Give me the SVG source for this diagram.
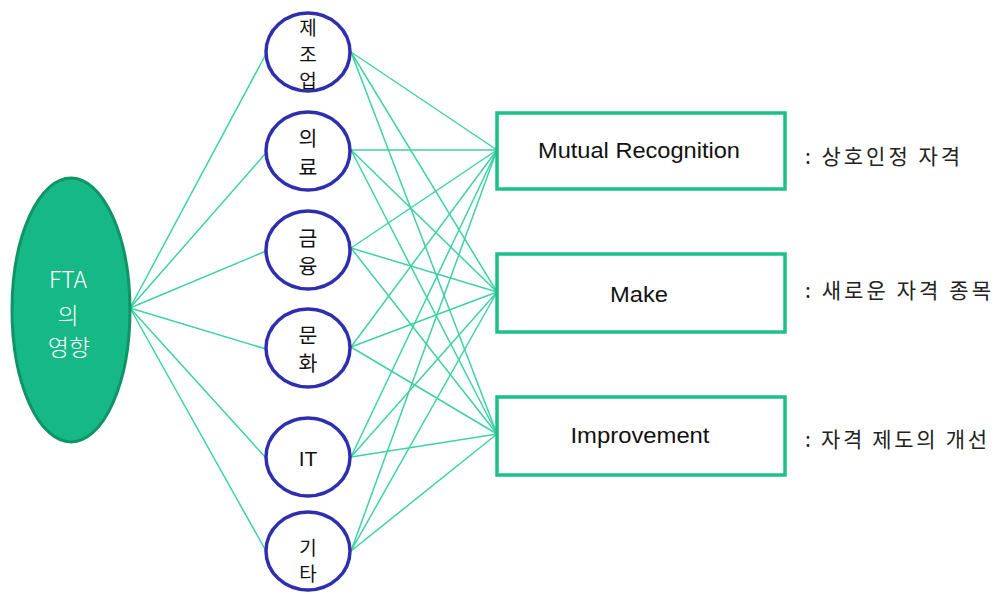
<svg xmlns="http://www.w3.org/2000/svg" width="996" height="594" viewBox="0 0 996 594">
<style>
.ln{stroke:#3fd1a6;stroke-width:1.5;fill:none}
.cir{fill:#fff;stroke:#2f2fae;stroke-width:3.5}
.box{fill:#fff;stroke:#1dbf8b;stroke-width:3.5}
.ct{font-family:"Noto Sans CJK KR","Liberation Sans",sans-serif;font-size:20.5px;fill:#111;text-anchor:middle}
.cs{font-size:19px}
.bt{font-family:"Liberation Sans","Noto Sans CJK KR",sans-serif;font-size:22px;fill:#111;text-anchor:middle}
.lb{font-family:"Noto Sans CJK KR","Liberation Sans",sans-serif;font-size:21px;fill:#222}
.ft{font-family:"Noto Sans CJK KR","Liberation Sans",sans-serif;font-size:23px;fill:#fff;text-anchor:middle;font-weight:300}
</style>
<rect width="996" height="594" fill="#fff"/>
<g id="connectors">
<line class="ln" x1="130" y1="308" x2="266" y2="54"/>
<line class="ln" x1="130" y1="308" x2="266" y2="153"/>
<line class="ln" x1="130" y1="308" x2="266" y2="251"/>
<line class="ln" x1="130" y1="308" x2="266" y2="349"/>
<line class="ln" x1="130" y1="308" x2="266" y2="458"/>
<line class="ln" x1="130" y1="308" x2="266" y2="551"/>
<line class="ln" x1="351" y1="52" x2="497" y2="150"/>
<line class="ln" x1="351" y1="52" x2="497" y2="292"/>
<line class="ln" x1="351" y1="52" x2="497" y2="434"/>
<line class="ln" x1="351" y1="150" x2="497" y2="150"/>
<line class="ln" x1="351" y1="150" x2="497" y2="292"/>
<line class="ln" x1="351" y1="150" x2="497" y2="434"/>
<line class="ln" x1="351" y1="248" x2="497" y2="150"/>
<line class="ln" x1="351" y1="248" x2="497" y2="292"/>
<line class="ln" x1="351" y1="248" x2="497" y2="434"/>
<line class="ln" x1="351" y1="347" x2="497" y2="150"/>
<line class="ln" x1="351" y1="347" x2="497" y2="292"/>
<line class="ln" x1="351" y1="347" x2="497" y2="434"/>
<line class="ln" x1="351" y1="457" x2="497" y2="150"/>
<line class="ln" x1="351" y1="457" x2="497" y2="292"/>
<line class="ln" x1="351" y1="457" x2="497" y2="434"/>
<line class="ln" x1="351" y1="551" x2="497" y2="150"/>
<line class="ln" x1="351" y1="551" x2="497" y2="292"/>
<line class="ln" x1="351" y1="551" x2="497" y2="434"/>
</g>
<g id="fta">
<ellipse cx="71" cy="310" rx="59" ry="132" fill="#16b886" stroke="#0f9468" stroke-width="3"/>
<text class="ft" x="68" y="288">FTA<tspan x="68" y="324">의</tspan><tspan x="69" y="356">영향</tspan></text>
</g>
<g id="n1">
<ellipse class="cir" cx="308" cy="52" rx="42" ry="39"/>
<text class="ct cs" x="308" y="35">제<tspan x="308" y="61.5">조</tspan><tspan x="308" y="88">업</tspan></text>
</g>
<g id="n2">
<ellipse class="cir" cx="308" cy="151" rx="42" ry="39"/>
<text class="ct" x="308" y="146">의<tspan x="308" y="175">료</tspan></text>
</g>
<g id="n3">
<ellipse class="cir" cx="308" cy="250" rx="42" ry="39"/>
<text class="ct" x="308" y="246">금<tspan x="308" y="274">융</tspan></text>
</g>
<g id="n4">
<ellipse class="cir" cx="308" cy="348" rx="42" ry="39"/>
<text class="ct" x="308" y="343">문<tspan x="308" y="371">화</tspan></text>
</g>
<g id="n5">
<ellipse class="cir" cx="308" cy="457" rx="42" ry="39"/>
<text class="ct" x="308" y="466" style="font-family:'Liberation Sans',sans-serif;font-size:21px">IT</text>
</g>
<g id="n6">
<ellipse class="cir" cx="308" cy="551" rx="42" ry="39"/>
<text class="ct cs" x="308" y="555">기<tspan x="308" y="581">타</tspan></text>
</g>
<g id="b1">
<rect class="box" x="497" y="113" width="288" height="76"/>
<text class="bt" x="639" y="158" textLength="202" lengthAdjust="spacingAndGlyphs">Mutual Recognition</text>
</g>
<g id="b2">
<rect class="box" x="497" y="254" width="288" height="78"/>
<text class="bt" x="639" y="302" textLength="58" lengthAdjust="spacingAndGlyphs">Make</text>
</g>
<g id="b3">
<rect class="box" x="497" y="397" width="288" height="78"/>
<text class="bt" x="640" y="443" textLength="139" lengthAdjust="spacingAndGlyphs">Improvement</text>
</g>
<g id="labels">
<text class="lb" x="805" y="164" textLength="155" lengthAdjust="spacing">: 상호인정 자격</text>
<text class="lb" x="805" y="298" textLength="186" lengthAdjust="spacing">: 새로운 자격 종목</text>
<text class="lb" x="805" y="447" textLength="182" lengthAdjust="spacing">: 자격 제도의 개선</text>
</g>
</svg>
